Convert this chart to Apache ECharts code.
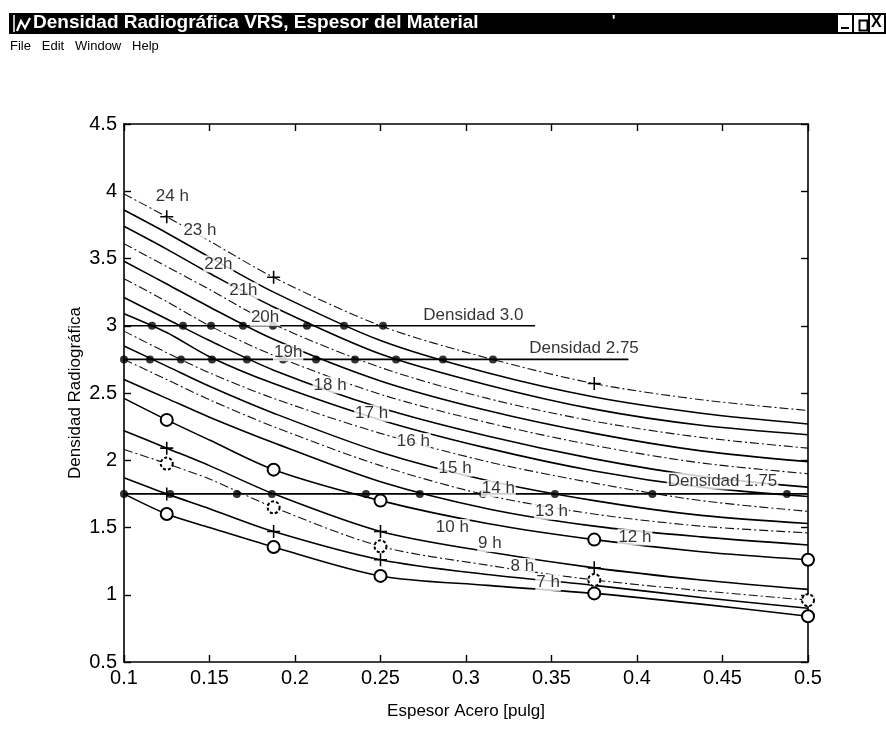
<!DOCTYPE html>
<html>
<head>
<meta charset="utf-8">
<script src="https://cdn.jsdelivr.net/npm/echarts@6/dist/echarts.min.js"></script>
<style>
html, body { margin: 0; padding: 0; background: #fff; }
#chart { width: 886px; height: 739px; }
</style>
</head>
<body>
<div id="chart"></div>
<script>
// Steel thickness (in) at which each exposure curve is sampled
const thickness = [0.1, 0.125, 0.15, 0.1875, 0.25, 0.3125, 0.375, 0.4375, 0.5];

// Radiographic density per exposure time (hours)
const h24 = [3.98, 3.81, 3.63, 3.36, 3.00, 2.76, 2.57, 2.45, 2.37];
const h23 = [3.86, 3.69, 3.51, 3.25, 2.89, 2.65, 2.47, 2.35, 2.27];
const h22 = [3.74, 3.57, 3.39, 3.14, 2.79, 2.56, 2.38, 2.26, 2.19];
const h21 = [3.61, 3.44, 3.27, 3.01, 2.69, 2.46, 2.29, 2.17, 2.09];
const h20 = [3.48, 3.31, 3.14, 2.90, 2.59, 2.37, 2.20, 2.07, 1.99];
const h19 = [3.35, 3.18, 3.00, 2.78, 2.49, 2.28, 2.11, 1.98, 1.90];
const h18 = [3.21, 3.05, 2.89, 2.67, 2.39, 2.18, 2.01, 1.88, 1.80];
const h17 = [3.09, 2.95, 2.77, 2.57, 2.30, 2.09, 1.92, 1.80, 1.73];
const h16 = [2.96, 2.80, 2.65, 2.46, 2.20, 1.99, 1.83, 1.70, 1.62];
const h15 = [2.85, 2.70, 2.55, 2.35, 2.06, 1.85, 1.70, 1.59, 1.53];
const h14 = [2.75, 2.60, 2.45, 2.25, 1.96, 1.74, 1.60, 1.51, 1.46];
const h13 = [2.60, 2.46, 2.32, 2.13, 1.84, 1.64, 1.51, 1.43, 1.37];
const h12 = [2.46, 2.30, 2.15, 1.93, 1.70, 1.53, 1.41, 1.32, 1.26];
const h10 = [2.22, 2.09, 1.96, 1.75, 1.47, 1.32, 1.20, 1.11, 1.04];
const h09 = [2.08, 1.975, 1.86, 1.65, 1.36, 1.22, 1.11, 1.03, 0.96];
const h08 = [1.87, 1.75, 1.64, 1.47, 1.26, 1.15, 1.07, 0.98, 0.90];
const h07 = [1.75, 1.60, 1.50, 1.355, 1.14, 1.07, 1.01, 0.93, 0.84];

// Measured points: 'o' circle, '+' cross, 'd' dashed circle, null none
const m24 = [null, '+', null, '+', null, null, '+', null, null];
const m12 = [null, 'o', null, 'o', 'o', null, 'o', null, 'o'];
const m10 = [null, '+', null, null, '+', null, '+', null, null];
const m09 = [null, 'd', null, 'd', 'd', null, 'd', null, 'd'];
const m08 = [null, '+', null, '+', '+', null, null, null, null];
const m07 = [null, 'o', null, 'o', 'o', null, 'o', null, 'o'];

// Curve label text, anchor thickness and density
const curveLabels = [
  ['24 h', 0.1283, 3.96], ['23 h', 0.1444, 3.71], ['22h', 0.1552, 3.46],
  ['21h', 0.1698, 3.26], ['20h', 0.1825, 3.06], ['19h', 0.196, 2.80],
  ['18 h', 0.2205, 2.56], ['17 h', 0.2448, 2.35], ['16 h', 0.2692, 2.14],
  ['15 h', 0.2936, 1.94], ['14 h', 0.3189, 1.79], ['13 h', 0.350, 1.62],
  ['12 h', 0.3988, 1.43], ['10 h', 0.292, 1.50], ['9 h', 0.314, 1.38],
  ['8 h', 0.333, 1.21], ['7 h', 0.348, 1.09]
];

// Reference density levels, their extent and crossing points
const densityLevels = [3.0, 2.75, 1.75];
const densityEnds = [0.3404, 0.395, 0.5];
const densityNames = ['Densidad 3.0', 'Densidad 2.75', 'Densidad 1.75'];
const densityNamePos = [[0.3043, 3.08], [0.369, 2.835], [0.45, 1.845]];
const cross30 = [0.1164, 0.1345, 0.1509, 0.1696, 0.1871, 0.207, 0.2287, 0.2515];
const cross275 = [0.1, 0.1152, 0.1333, 0.1515, 0.1719, 0.193, 0.2123, 0.2351, 0.2591, 0.2865, 0.3158];
const cross175 = [0.1, 0.127, 0.166, 0.1865, 0.2415, 0.273, 0.31, 0.352, 0.409, 0.4877];

const curves = [
  [24, h24, m24], [23, h23, null], [22, h22, null], [21, h21, null],
  [20, h20, null], [19, h19, null], [18, h18, null], [17, h17, null],
  [16, h16, null], [15, h15, null], [14, h14, null], [13, h13, null],
  [12, h12, m12], [10, h10, m10], [9, h09, m09], [8, h08, m08], [7, h07, m07]
];
const dashDotHours = [24, 21, 19, 16, 14, 9];

const FONT = '"Liberation Sans", Arial, Helvetica, sans-serif';
const PLUS = 'path://M4.4,0H5.6V4.4H10V5.6H5.6V10H4.4V5.6H0V4.4H4.4Z';

function markerItem(kind) {
  if (kind === 'o') return { symbol: 'emptyCircle', symbolSize: 12, itemStyle: { color: '#000', borderWidth: 1.4 } };
  if (kind === 'd') return { symbol: 'emptyCircle', symbolSize: 12, itemStyle: { color: '#000', borderWidth: 1.2, borderType: [3, 2] } };
  if (kind === '+') return { symbol: PLUS, symbolSize: 13, itemStyle: { color: '#000' } };
  return { symbol: 'none' };
}

const series = [];
curves.forEach(([hr, vals, marks]) => {
  const dashed = dashDotHours.includes(hr);
  series.push({
    type: 'line',
    name: hr + ' h',
    smooth: 0.3,
    showSymbol: true,
    showAllSymbol: true,
    symbol: 'none',
    z: 3,
    lineStyle: dashed ? { color: '#111', width: 1.1, type: [9, 3, 2, 3] } : { color: '#000', width: 1.6 },
    data: thickness.map((x, i) => Object.assign({ value: [x, vals[i]] }, markerItem(marks ? marks[i] : null)))
  });
});

const crossSets = [cross30, cross275, cross175];
densityLevels.forEach((lvl, k) => {
  series.push({
    type: 'line', z: 4, symbol: 'none',
    lineStyle: { color: '#000', width: 1.7 },
    data: [[0.1, lvl], [densityEnds[k], lvl]]
  });
  series.push({
    type: 'scatter', z: 5, symbol: 'circle', symbolSize: 8,
    itemStyle: { color: '#000' },
    data: crossSets[k].map(x => [x, lvl])
  });
});

// Text annotations for curves and reference lines
series.push({
  type: 'scatter', z: 6, symbolSize: 0, silent: true,
  label: {
    show: true, position: 'inside', color: '#000',
    fontFamily: FONT, fontSize: 17, backgroundColor: '#fff', padding: [0, 1],
    formatter: p => p.data.name
  },
  data: curveLabels.map(([t, x, y]) => ({ name: t, value: [x, y] }))
    .concat(densityNames.map((t, k) => ({ name: t, value: densityNamePos[k] })))
});

const axisText = { color: '#000', fontFamily: FONT, fontSize: 20 };
const lineBlack = { show: true, onZero: false, lineStyle: { color: '#000', width: 1.6 } };
const tickIn = { show: true, inside: true, length: 7, lineStyle: { color: '#000', width: 1.4 } };
const fmt = v => String(Math.round(v * 100) / 100);

const option = {
  animation: false,
  backgroundColor: '#fff',
  grid: { left: 124, top: 124, width: 684, height: 538, show: false },
  xAxis: [
    {
      type: 'value', min: 0.1, max: 0.5, interval: 0.05,
      axisLine: lineBlack, axisTick: tickIn, splitLine: { show: false },
      axisLabel: Object.assign({ margin: 6, formatter: fmt }, axisText),
      name: 'Espesor Acero [pulg]', nameLocation: 'middle', nameGap: 41, nameMoveOverlap: false,
      nameTextStyle: { color: '#000', fontFamily: FONT, fontSize: 17 }
    },
    {
      type: 'value', position: 'top', min: 0.1, max: 0.5, interval: 0.05,
      axisLine: lineBlack, axisTick: tickIn, splitLine: { show: false }, axisLabel: { show: false }
    }
  ],
  yAxis: [
    {
      type: 'value', min: 0.5, max: 4.5, interval: 0.5,
      axisLine: lineBlack, axisTick: tickIn, splitLine: { show: false },
      axisLabel: Object.assign({ margin: 7, formatter: fmt }, axisText),
      name: 'Densidad Radiográfica', nameLocation: 'middle', nameGap: 40, nameMoveOverlap: false,
      nameTextStyle: { color: '#000', fontFamily: FONT, fontSize: 17 }
    },
    {
      type: 'value', position: 'right', min: 0.5, max: 4.5, interval: 0.5,
      axisLine: lineBlack, axisTick: tickIn, splitLine: { show: false }, axisLabel: { show: false }
    }
  ],
  graphic: [
    // window title bar
    { type: 'rect', left: 9, top: 13, shape: { width: 877, height: 21 }, style: { fill: '#000' } },
    { type: 'polyline', shape: { points: [[14, 15], [14, 32]] }, style: { stroke: '#fff', lineWidth: 1.5 } },
    { type: 'polyline', shape: { points: [[17, 31], [21, 21], [25, 28], [30, 18]] }, style: { stroke: '#fff', lineWidth: 2.2 } },
    { type: 'text', left: 33, top: 13, style: { text: 'Densidad Radiográfica VRS, Espesor del Material', fill: '#fff', font: 'bold 19px ' + FONT } },
    { type: 'text', left: 612, top: 14, style: { text: '\'', fill: '#fff', font: 'bold 14px ' + FONT } },
    { type: 'rect', left: 838, top: 15, shape: { width: 14, height: 17 }, style: { fill: '#fff' } },
    { type: 'rect', left: 841, top: 27, shape: { width: 8, height: 2 }, style: { fill: '#000' } },
    { type: 'rect', left: 854, top: 15, shape: { width: 14, height: 17 }, style: { fill: '#fff' } },
    { type: 'rect', left: 857, top: 18, shape: { width: 8, height: 10 }, style: { fill: 'none', stroke: '#000', lineWidth: 2 } },
    { type: 'rect', left: 870, top: 15, shape: { width: 14, height: 17 }, style: { fill: '#fff' } },
    { type: 'text', left: 871, top: 15, style: { text: 'X', fill: '#000', font: 'bold 16px ' + FONT } },
    // menu bar
    { type: 'text', left: 10, top: 40, style: { text: 'File   Edit   Window   Help', fill: '#000', font: '13px ' + FONT } }
  ],
  series: series
};

const chart = echarts.init(document.getElementById('chart'), null, { renderer: 'canvas' });
chart.setOption(option);
</script>
</body>
</html>
